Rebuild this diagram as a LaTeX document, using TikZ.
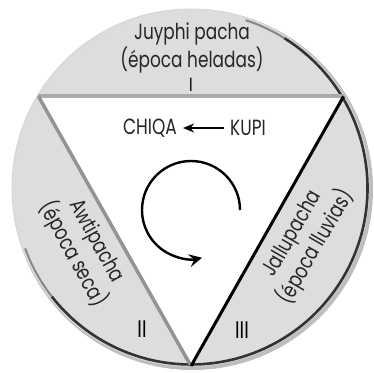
\documentclass[tikz,border=0pt]{standalone}
\usepackage{fontspec}
\setmainfont[FakeStretch=0.77]{Poppins}
\usetikzlibrary{arrows.meta,calc}
\definecolor{segfill}{HTML}{DCDDDF}
\definecolor{rimshade}{HTML}{BDBEC0}
\definecolor{topedge}{HTML}{A9AAAC}
\definecolor{leftedge}{HTML}{929395}
\begin{document}
\begin{tikzpicture}[x=1pt,y=1pt,
  lbl/.style={font=\fontsize{22}{23}\selectfont, align=center, text=black!85, inner sep=0pt},
  numeral/.style={font=\fontsize{24}{24}\selectfont, text=black, inner sep=0pt}]
\useasboundingbox (0,0) rectangle (374,372);
\coordinate (c) at (191,184);
% shaded rim of the disc
\fill[rimshade] (192.5,182.5) circle (180.5);
\fill[white!85!black] (190.5,184.5) circle (179);
\fill[segfill] (c) circle (178);
\draw[black!80, line width=2.6] ([shift={(58:176.5)}]c) arc (58:-142:176.5);
\draw[black!80, opacity=0.5, line width=2] ([shift={(72:176.5)}]c) arc (72:58:176.5);
\draw[black!80, opacity=0.5, line width=2] ([shift={(-142:176.5)}]c) arc (-142:-160:176.5);
% inscribed triangle
\coordinate (tl) at ($(c)+(149:178)$);
\coordinate (tr) at ($(c)+(31:178)$);
\coordinate (bt) at ($(c)+(270:178)$);
\fill[white] (tl) -- (tr) -- (bt) -- cycle;
\draw[topedge, line width=4] (tl) -- (tr);
\draw[leftedge, line width=3.5] (tl) -- (bt);
\draw[black, line width=3] (bt) -- (tr);
% season labels
\node[lbl] (juyphi) at (192,324) {Juyphi pacha\\(época heladas)};
\node[numeral, font=\fontsize{19}{19}\selectfont] (n1) at (191,287) {I};
\node[lbl, rotate=-61] (awti) at (84,124) {Awtipacha\\(época seca)};
\node[numeral] (n2) at (142,43) {II};
\node[lbl, rotate=60] (jallu) at (305,131) {Jallupacha\\(época lluvias)};
\node[numeral] (n3) at (242,42) {III};
% direction of the cycle
\node[lbl] (chiqa) at (150,244) {CHIQA};
\node[lbl] (kupi) at (248,244) {KUPI};
\draw[line width=1.8, -{Stealth[length=11, width=9]}] ([xshift=-6]kupi.west) -- ([xshift=6]chiqa.east);
\coordinate (loop) at (191,162);
\draw[line width=2.4, -{Stealth[open, length=13, width=13, inset=5]}]
  ([shift={(0:49)}]loop) arc (0:283:49);
\end{tikzpicture}
\end{document}
